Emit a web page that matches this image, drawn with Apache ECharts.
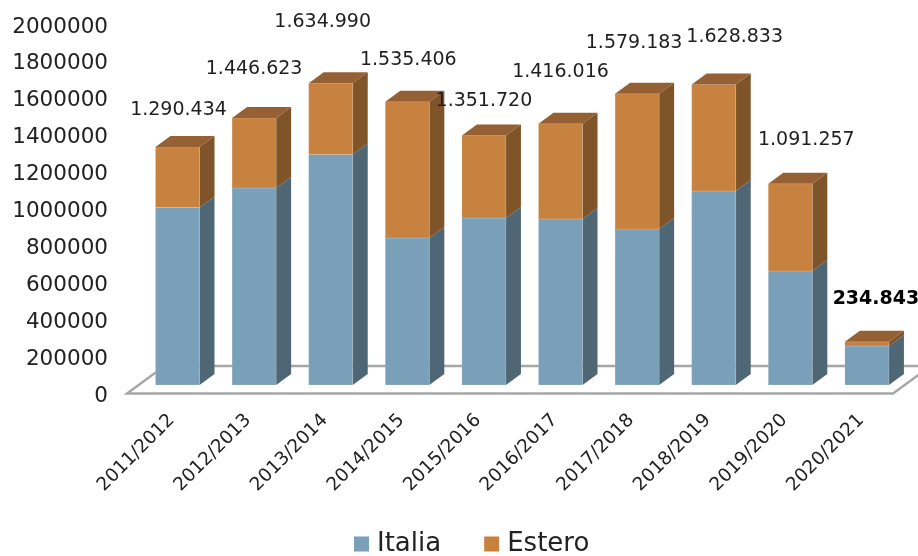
<!DOCTYPE html>
<html>
<head>
<meta charset="utf-8">
<style>html,body{margin:0;padding:0;background:#fff}#c{width:918px;height:556px}</style>
<script src="https://cdn.jsdelivr.net/npm/echarts@6/dist/echarts.min.js"></script>
</head>
<body>
<div id="c"></div>
<script>
var categories = ['2011/2012','2012/2013','2013/2014','2014/2015','2015/2016','2016/2017','2017/2018','2018/2019','2019/2020','2020/2021'];
var italia = [962000,1068000,1250000,797000,905000,900000,846000,1051000,618000,211000];
var estero = [328434,378623,384990,738406,446720,516016,733183,577833,473257,23843];
var totalLabels = ['1.290.434','1.446.623','1.634.990','1.535.406','1.351.720','1.416.016','1.579.183','1.628.833','1.091.257','234.843'];
var labelShift = [[1,-37],[0,-49],[-8,-61],[1,-42],[0,-35],[0,-52],[-3,-51],[21,-47],[16,-44],[9,-43]];

var FONT = '"DejaVu Sans", sans-serif';
var DEPTH_X = 15, DEPTH_Y = 11;      // bar side/top projection
var FRONT_X = 12.2, FRONT_Y = -8;    // bars sit inside the floor
var FLOOR_X = 37.5, FLOOR_Y = 27.5;

function box(colors, withTop) {
  return function (params, api) {
    var i = api.value(0);
    var band = api.size([1, 0])[0];
    var w = band * 0.575;
    var a = api.coord([i, api.value(1)]);
    var b = api.coord([i, api.value(2)]);
    var l = a[0] + FRONT_X - w / 2, r = l + w;
    var yb = a[1] + FRONT_Y, yt = b[1] + FRONT_Y;
    var edge = { stroke: 'rgba(255,255,255,0.25)', lineWidth: 0.6 };
    var kids = [
      { type: 'polygon', shape: { points: [[r, yb], [r + DEPTH_X, yb - DEPTH_Y], [r + DEPTH_X, yt - DEPTH_Y], [r, yt]] },
        style: { fill: colors.side } },
      { type: 'rect', shape: { x: l, y: yt, width: w, height: yb - yt }, style: Object.assign({ fill: colors.front }, edge) }
    ];
    if (withTop) {
      kids.push({ type: 'polygon', shape: { points: [[l, yt], [r, yt], [r + DEPTH_X, yt - DEPTH_Y], [l + DEPTH_X, yt - DEPTH_Y]] },
        style: { fill: colors.top } });
    }
    return { type: 'group', children: kids };
  };
}

function floor(params, api) {
  var band = api.size([1, 0])[0];
  var o = api.coord([0, 0]);
  var x0 = o[0] - band / 2, x1 = x0 + band * categories.length, y = o[1] + 0.5;
  return {
    type: 'polygon',
    shape: { points: [[x0, y], [x1, y], [x1 + FLOOR_X, y - FLOOR_Y], [x0 + FLOOR_X, y - FLOOR_Y]] },
    style: { fill: '#fff', stroke: '#a6a6a6', lineWidth: 2.4 }
  };
}

function valueLabel(params, api) {
  var i = api.value(0);
  var t = api.coord([i, api.value(1)]);
  var last = i === categories.length - 1;
  return {
    type: 'text',
    style: {
      x: t[0] + FRONT_X + labelShift[i][0],
      y: t[1] + FRONT_Y + labelShift[i][1],
      text: totalLabels[i],
      align: 'center', verticalAlign: 'middle',
      font: (last ? 'bold ' : '') + '19px ' + FONT,
      fill: last ? '#000' : '#1f1f1f'
    }
  };
}

var chart = echarts.init(document.getElementById('c'), null, { renderer: 'canvas' });
chart.setOption({
  animation: false,
  backgroundColor: '#fff',
  grid: { left: 127, right: 25, top: 24, bottom: 163, outerBoundsMode: 'none' },
  legend: {
    data: ['Italia', 'Estero'], top: 531, left: 354,
    icon: 'rect', itemWidth: 15, itemHeight: 15, itemGap: 43, padding: 0,
    textStyle: { fontFamily: FONT, fontSize: 26, color: '#222', padding: [0, 0, 0, 3] }
  },
  xAxis: {
    type: 'category', data: categories,
    axisLine: { show: false }, axisTick: { show: false },
    axisLabel: { rotate: 45, interval: 0, margin: 18, verticalAlign: 'top', lineHeight: 18, fontFamily: FONT, fontSize: 18.5, color: '#222' }
  },
  yAxis: {
    type: 'value', min: 0, max: 2000000, interval: 200000,
    axisLine: { show: false }, axisTick: { show: false }, splitLine: { show: false },
    axisLabel: { margin: 19, verticalAlign: 'top', lineHeight: 6, fontFamily: FONT, fontSize: 21.5, color: '#222',
      formatter: function (v) { return String(v); } }
  },
  series: [
    { type: 'custom', name: 'floor', z: 1, renderItem: floor, data: [[0, 0]], silent: true, encode: { x: 0, y: 1 } },
    { type: 'custom', name: 'Italia', z: 2, itemStyle: { color: '#7a9fb8' },
      renderItem: box({ front: '#7a9fb8', side: '#4f6675' }, false),
      data: italia.map(function (v, i) { return [i, 0, v]; }), encode: { x: 0, y: [1, 2] } },
    { type: 'custom', name: 'Estero', z: 3, itemStyle: { color: '#c78240' },
      renderItem: box({ front: '#c78240', side: '#7f5429', top: '#946034' }, true),
      data: estero.map(function (v, i) { return [i, italia[i], italia[i] + v]; }), encode: { x: 0, y: [1, 2] } },
    { type: 'custom', name: 'totali', z: 4, renderItem: valueLabel, silent: true,
      data: estero.map(function (v, i) { return [i, italia[i] + v]; }), encode: { x: 0, y: 1 } }
  ]
});
</script>
</body>
</html>
